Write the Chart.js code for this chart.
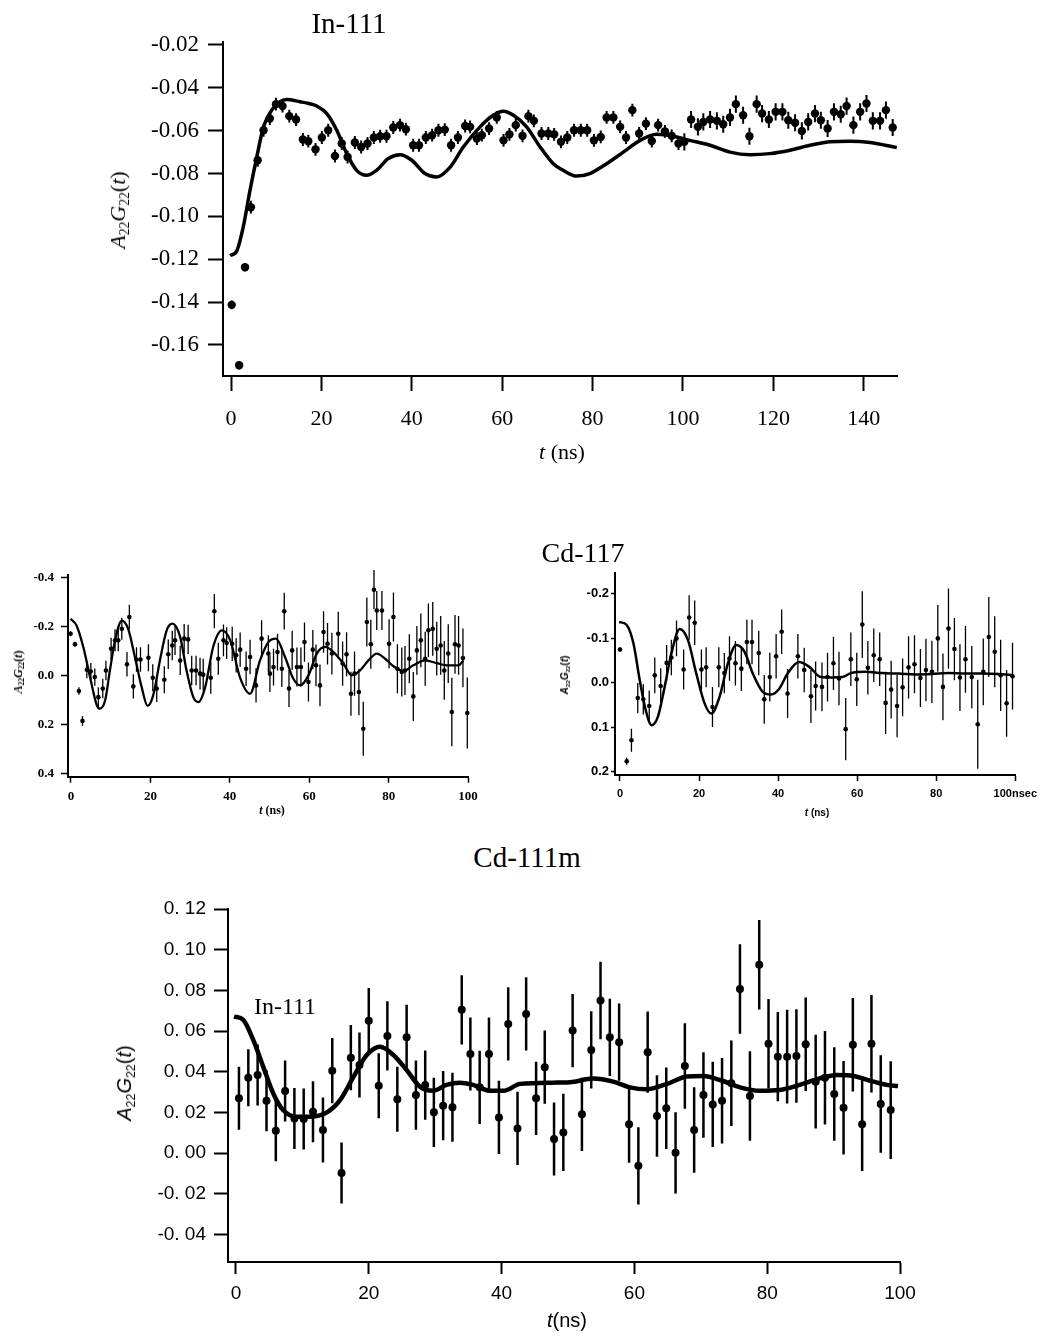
<!DOCTYPE html>
<html><head><meta charset="utf-8">
<script src="https://cdn.jsdelivr.net/npm/chart.js@4/dist/chart.umd.min.js"></script>
<style>
body{margin:0;background:#fff;width:1043px;height:1336px;position:relative;overflow:hidden}
canvas{position:absolute}
.t{position:absolute;white-space:nowrap;color:#000;line-height:1;transform:translate(-50%,-50%)}
.r{transform:translate(-50%,-50%) rotate(-90deg)}
sub{font-size:62%;vertical-align:-0.3em;line-height:0}
.serif{font-family:"Liberation Serif","DejaVu Serif",serif}
.sans{font-family:"Liberation Sans","DejaVu Sans",sans-serif}
</style></head><body>
<canvas id="c1" width="1043" height="480" style="left:0;top:0"></canvas>
<canvas id="c2" width="500" height="260" style="left:0;top:560px"></canvas>
<canvas id="c3" width="523" height="260" style="left:520px;top:560px"></canvas>
<canvas id="c4" width="1043" height="456" style="left:0;top:880px"></canvas>

<div class="t serif" style="left:349px;top:23px;font-size:29px">In-111</div>
<div class="t serif" style="left:562px;top:452px;font-size:22px"><i>t</i> (ns)</div>
<div class="t serif r" style="left:118px;top:210px;font-size:22px"><i>A</i><sub>22</sub><i>G</i><sub>22</sub>(<i>t</i>)</div>

<div class="t serif" style="left:583px;top:553px;font-size:28px">Cd-117</div>
<div class="t serif r" style="left:18px;top:672px;font-size:12px;font-weight:bold"><i>A</i><sub>22</sub><i>G</i><sub>22</sub>(<i>t</i>)</div>
<div class="t serif" style="left:272px;top:810px;font-size:12px;font-weight:bold"><i>t</i> (ns)</div>
<div class="t sans r" style="left:565px;top:675px;font-size:10px;font-weight:bold"><i>A</i><sub>22</sub><i>G</i><sub>22</sub>(<i>t</i>)</div>
<div class="t sans" style="left:817px;top:813px;font-size:10px;font-weight:bold"><i>t</i> (ns)</div>

<div class="t serif" style="left:527px;top:857px;font-size:29px">Cd-111m</div>
<div class="t serif" style="left:285px;top:1006px;font-size:24px">In-111</div>
<div class="t sans r" style="left:124px;top:1083px;font-size:20px"><i>A</i><sub>22</sub><i>G</i><sub>22</sub>(<i>t</i>)</div>
<div class="t sans" style="left:567px;top:1320px;font-size:20px"><i>t</i>(ns)</div>

<script>
// ---------- In-111 (top) ----------
const inTime = [0.15,1.8,3.1,4.4,5.9,7.2,8.6,9.95,11.4,12.9,14.4,15.9,17.1,18.7,20.1,21.5,23.0,24.5,25.8,27.4,28.8,30.2,31.6,33.0,34.4,35.9,37.4,38.7,40.3,41.6,43.1,44.5,45.9,47.3,48.7,50.2,51.8,52.9,54.4,55.5,57.1,58.8,60.3,61.6,63.0,64.5,65.8,67.0,68.7,70.2,71.5,73.0,74.4,75.9,77.4,78.8,80.3,81.8,83.1,84.6,86.1,87.4,88.8,90.3,91.8,93.1,94.5,96.0,97.5,99.0,100.3,101.8,103.3,104.5,106.0,107.5,108.9,110.4,111.7,113.3,114.7,116.3,117.5,119.0,120.5,122.0,123.3,124.8,126.3,127.7,129.2,130.5,132.0,133.4,134.9,136.2,137.7,139.2,140.6,142.0,143.6,144.9,146.4];
const inValue = [-0.1413,-0.1695,-0.1237,-0.0957,-0.0738,-0.0598,-0.0543,-0.0476,-0.0485,-0.0532,-0.0548,-0.0641,-0.0649,-0.0687,-0.0632,-0.0598,-0.0718,-0.066,-0.0723,-0.0655,-0.0676,-0.066,-0.0632,-0.0626,-0.0626,-0.0585,-0.0574,-0.0593,-0.0668,-0.0668,-0.0632,-0.0621,-0.0598,-0.0595,-0.0668,-0.0632,-0.0578,-0.0582,-0.0637,-0.0621,-0.059,-0.0538,-0.0645,-0.0617,-0.0574,-0.0624,-0.0532,-0.0554,-0.0613,-0.0613,-0.0617,-0.0652,-0.0632,-0.0598,-0.0598,-0.0598,-0.0645,-0.0629,-0.0538,-0.0538,-0.0582,-0.0632,-0.0504,-0.0613,-0.0567,-0.0648,-0.0574,-0.0603,-0.0624,-0.066,-0.0652,-0.0548,-0.0582,-0.0559,-0.0548,-0.0554,-0.057,-0.0538,-0.0476,-0.0528,-0.0626,-0.0476,-0.052,-0.0548,-0.0512,-0.0512,-0.0551,-0.0563,-0.0601,-0.0559,-0.052,-0.0551,-0.059,-0.0512,-0.0523,-0.0485,-0.0574,-0.0512,-0.0473,-0.0554,-0.0554,-0.0504,-0.0585];
const inError = [0.002,0.002,0.002,0.003,0.003,0.003,0.003,0.003,0.003,0.003,0.003,0.003,0.003,0.003,0.003,0.003,0.003,0.003,0.003,0.003,0.003,0.003,0.003,0.003,0.003,0.003,0.003,0.003,0.003,0.003,0.003,0.003,0.003,0.003,0.003,0.003,0.003,0.003,0.003,0.003,0.003,0.003,0.003,0.003,0.003,0.003,0.003,0.003,0.003,0.003,0.003,0.003,0.003,0.003,0.003,0.003,0.003,0.003,0.003,0.003,0.003,0.003,0.003,0.003,0.003,0.003,0.003,0.003,0.003,0.003,0.004,0.004,0.004,0.004,0.004,0.004,0.004,0.004,0.004,0.004,0.004,0.004,0.004,0.004,0.004,0.004,0.004,0.004,0.004,0.004,0.004,0.004,0.004,0.004,0.004,0.004,0.004,0.004,0.004,0.004,0.004,0.004,0.004];
const inFitTime = [-0.2,1.3,2.7,4.2,5.7,7.2,9.0,10.8,12.3,15.3,17.0,19.0,21.2,23.4,25.6,27.8,30.0,32.2,34.8,37.4,40.0,42.9,45.5,48.5,51.4,55.1,58.0,60.3,62.5,65.4,68.4,71.3,73.5,76.5,79.4,83.1,86.8,90.5,94.2,97.9,101.5,106.0,110.4,114.8,119.2,123.7,128.1,132.5,136.9,141.4,147.3];
const inFitValue = [-0.1183,-0.116,-0.105,-0.0879,-0.0723,-0.0582,-0.0504,-0.0465,-0.0454,-0.0465,-0.0472,-0.0485,-0.052,-0.0598,-0.0707,-0.0785,-0.0808,-0.0785,-0.073,-0.0712,-0.0738,-0.08,-0.0816,-0.077,-0.0676,-0.0582,-0.0528,-0.0509,-0.0528,-0.0582,-0.0676,-0.0754,-0.0785,-0.0812,-0.08,-0.0754,-0.07,-0.0645,-0.0617,-0.0626,-0.0645,-0.0668,-0.07,-0.0712,-0.0707,-0.0691,-0.0668,-0.0652,-0.0649,-0.0655,-0.0679];
const inXTicks = [0,20,40,60,80,100,120,140];
const inYTicks = [-0.16,-0.14,-0.12,-0.10,-0.08,-0.06,-0.04,-0.02];

// ---------- Cd-117 (left) ----------
const cdLTime = [-0.1,1.0,2.0,2.9,4.0,5.0,6.0,6.9,8.0,8.8,10.1,11.1,11.9,12.8,14.1,14.7,15.7,16.5,17.5,19.5,20.6,21.6,23.5,24.5,25.5,26.2,27.5,28.5,29.5,30.4,31.5,32.5,33.3,35.2,36.1,37.1,38.4,39.2,40.6,41.6,42.6,44.1,45.1,46.6,48.0,49.7,50.1,51.0,52.0,53.1,53.7,54.9,55.7,56.9,57.9,58.8,59.8,60.9,61.7,62.7,63.6,64.6,65.7,67.3,68.4,69.4,70.5,71.4,72.5,73.6,74.5,75.5,76.3,77.0,78.3,80.1,81.2,82.2,83.3,84.1,85.2,86.2,87.1,88.1,89.2,90.0,91.1,92.1,93.1,94.0,95.0,95.9,96.7,97.6,98.7,99.8];
const cdLValue = [-0.170,-0.127,0.064,0.186,-0.023,-0.016,0.007,0.089,0.054,-0.020,-0.109,-0.143,-0.143,-0.190,-0.045,-0.238,0.045,-0.065,-0.065,-0.072,0.010,0.054,0.018,-0.086,-0.122,-0.143,-0.061,-0.150,-0.147,-0.020,-0.020,-0.007,-0.003,0.010,-0.262,-0.068,-0.143,-0.132,-0.129,-0.082,-0.105,-0.027,-0.075,0.041,-0.150,-0.089,-0.007,-0.034,-0.095,-0.027,-0.262,0.054,-0.102,-0.034,-0.034,-0.136,0.027,-0.105,-0.041,0.041,-0.177,-0.129,-0.089,-0.170,-0.048,-0.086,0.075,-0.007,0.068,0.218,-0.218,-0.127,-0.350,-0.265,-0.265,-0.129,-0.238,-0.027,-0.014,-0.020,-0.068,0.086,-0.102,-0.143,-0.068,-0.184,-0.190,-0.109,-0.122,-0.020,-0.089,0.150,-0.127,-0.122,-0.071,0.154];
const cdLError = [0.01,0.01,0.015,0.02,0.035,0.035,0.035,0.04,0.04,0.04,0.045,0.045,0.045,0.045,0.05,0.05,0.05,0.05,0.05,0.055,0.055,0.055,0.055,0.06,0.06,0.06,0.06,0.06,0.06,0.06,0.06,0.065,0.065,0.065,0.07,0.065,0.065,0.065,0.07,0.07,0.07,0.07,0.07,0.07,0.075,0.075,0.075,0.075,0.075,0.075,0.075,0.075,0.08,0.08,0.08,0.08,0.08,0.08,0.085,0.085,0.085,0.085,0.085,0.09,0.09,0.09,0.09,0.09,0.095,0.11,0.1,0.1,0.08,0.08,0.08,0.1,0.1,0.1,0.1,0.1,0.1,0.1,0.1,0.11,0.11,0.11,0.11,0.11,0.12,0.12,0.12,0.14,0.12,0.12,0.12,0.145];
const cdLFitTime = [-0.1,1.4,3.1,4.8,6.5,7.3,8.6,9.8,11.1,12.8,14.4,16.1,17.8,19.3,20.7,22.4,24.1,25.6,27.5,29.1,30.8,32.1,33.8,35.8,38.0,40.1,42.6,45.1,47.6,49.7,51.6,53.9,56.0,57.7,59.8,61.9,64.0,66.1,68.6,70.7,72.8,74.9,77.0,79.1,81.2,83.7,86.2,89.2,92.1,94.6,97.6,98.8];
const cdLFitValue = [-0.231,-0.204,-0.116,0.007,0.122,0.136,0.102,-0.020,-0.143,-0.224,-0.190,-0.075,0.048,0.125,0.082,-0.061,-0.184,-0.211,-0.156,-0.020,0.089,0.109,0.048,-0.116,-0.184,-0.143,0.010,0.075,-0.061,-0.136,-0.150,-0.075,0.014,0.041,0.0,-0.089,-0.116,-0.095,-0.048,0.0,-0.020,-0.061,-0.089,-0.068,-0.037,-0.018,-0.041,-0.061,-0.050,-0.041,-0.041,-0.060];
const cdLXTicks = [0,20,40,60,80,100];
const cdLYTicks = [-0.4,-0.2,0.0,0.2,0.4];

// ---------- Cd-117 (right) ----------
const cdRTime = [0.0,1.7,2.9,4.5,5.9,7.4,8.8,10.3,11.8,13.0,14.3,16.1,17.5,18.9,20.6,21.8,23.4,25.0,26.4,27.7,29.2,30.7,32.1,33.4,35.1,36.5,37.9,39.5,40.9,42.4,45.0,46.6,48.3,49.5,51.1,52.5,54.0,55.4,57.1,58.4,59.9,61.3,62.7,64.2,65.7,67.2,68.6,70.1,71.5,73.0,74.5,76.0,77.4,78.9,80.4,81.7,83.1,84.6,86.0,87.4,89.0,90.5,91.9,93.3,94.8,96.3,97.8,99.3];
const cdRValue = [-0.075,0.176,0.129,0.034,0.037,0.052,-0.017,0.007,-0.045,-0.057,-0.100,-0.030,-0.147,-0.135,-0.030,-0.035,0.054,-0.035,-0.022,-0.055,-0.044,-0.032,-0.092,-0.092,-0.067,0.037,-0.013,-0.060,-0.115,0.024,-0.060,-0.029,0.030,0.007,0.009,-0.013,-0.044,-0.010,0.104,-0.053,-0.008,-0.131,-0.034,-0.062,-0.053,0.045,0.015,0.052,0.010,-0.035,-0.042,-0.011,-0.029,-0.025,-0.100,0.009,-0.122,-0.076,-0.012,-0.053,-0.013,0.093,-0.025,-0.103,-0.070,-0.017,0.046,-0.015];
const cdRError = [0.005,0.008,0.026,0.034,0.034,0.035,0.04,0.04,0.04,0.04,0.04,0.045,0.05,0.05,0.045,0.045,0.045,0.045,0.045,0.05,0.05,0.05,0.05,0.05,0.05,0.055,0.055,0.05,0.05,0.055,0.05,0.05,0.06,0.055,0.055,0.055,0.06,0.06,0.07,0.06,0.06,0.075,0.06,0.06,0.06,0.07,0.065,0.07,0.065,0.07,0.065,0.065,0.07,0.07,0.075,0.075,0.09,0.07,0.075,0.075,0.07,0.1,0.075,0.09,0.08,0.08,0.075,0.075];
const cdRFitTime = [-0.2,1.7,3.4,5.0,6.5,8.0,9.6,11.3,13.0,15.1,17.2,19.3,21.4,23.1,25.2,27.3,29.4,31.5,33.6,36.1,38.2,40.3,42.4,45.3,47.9,50.8,53.7,56.3,58.4,62.1,66.3,70.5,74.7,78.9,83.1,87.3,91.5,95.7,99.5];
const cdRFitValue = [-0.137,-0.130,-0.089,-0.006,0.061,0.095,0.076,0.009,-0.066,-0.121,-0.096,-0.021,0.046,0.069,0.031,-0.044,-0.085,-0.070,-0.021,0.020,0.026,0.013,-0.021,-0.047,-0.036,-0.013,-0.012,-0.013,-0.022,-0.025,-0.022,-0.021,-0.019,-0.020,-0.022,-0.021,-0.021,-0.020,-0.017];
const cdRXTicks = [0,20,40,60,80,100];
const cdRYTicks = [-0.2,-0.1,0.0,0.1,0.2];

// ---------- Cd-111m (bottom) ----------
const cdmTime = [0.45,1.86,3.26,4.6,6.0,7.4,8.8,10.2,11.6,13.1,14.5,15.9,17.3,18.6,20.0,21.5,22.8,24.3,25.7,27.1,28.5,29.8,31.2,32.6,34.0,35.3,36.7,38.1,39.6,41.0,42.4,43.7,45.2,46.5,47.9,49.3,50.7,52.1,53.5,54.9,56.3,57.7,59.2,60.6,62.0,63.4,64.8,66.2,67.6,69.0,70.4,71.8,73.2,74.6,75.9,77.4,78.8,80.2,81.6,83.0,84.4,85.8,87.3,88.7,90.1,91.5,92.9,94.3,95.7,97.1,98.6];
const cdmValue = [0.0269,0.037,0.0384,0.0257,0.0109,0.0305,0.017,0.0167,0.0203,0.0113,0.0405,-0.0098,0.0469,0.0433,0.0651,0.0331,0.0576,0.0264,0.0569,0.0285,0.0334,0.020,0.0233,0.0225,0.0704,0.0487,0.0323,0.0487,0.0175,0.0635,0.0121,0.0684,0.0269,0.0422,0.0069,0.0101,0.0602,0.019,0.0507,0.075,0.0569,0.0545,0.0142,-0.0063,0.0496,0.0182,0.022,0.0001,0.0428,0.0113,0.0285,0.0239,0.0257,0.0343,0.0807,0.028,0.0926,0.0537,0.0474,0.0474,0.0477,0.0535,0.0351,0.037,0.029,0.0223,0.0532,0.0141,0.0537,0.0241,0.0211];
const cdmError = [0.0155,0.014,0.015,0.015,0.015,0.015,0.015,0.015,0.015,0.016,0.016,0.015,0.016,0.016,0.016,0.016,0.017,0.016,0.016,0.017,0.017,0.017,0.017,0.017,0.017,0.018,0.018,0.018,0.018,0.018,0.018,0.018,0.018,0.018,0.018,0.019,0.018,0.018,0.019,0.019,0.019,0.019,0.019,0.019,0.020,0.020,0.020,0.020,0.021,0.021,0.021,0.021,0.021,0.021,0.022,0.022,0.022,0.022,0.022,0.023,0.023,0.023,0.023,0.023,0.023,0.023,0.023,0.023,0.024,0.024,0.024];
const cdmFitTime = [-0.3,1.1,2.6,4.1,5.6,7.1,9.1,11.1,13.7,15.7,17.7,19.7,21.7,23.7,25.7,27.7,29.7,31.7,33.7,35.7,38.3,40.3,42.8,47.8,50.3,53.8,56.8,59.3,61.8,64.9,67.9,70.4,72.9,75.9,78.9,81.9,84.9,87.9,90.5,93.0,96.0,98.0,99.7];
const cdmFitValue = [0.0671,0.0655,0.0556,0.0425,0.0294,0.0211,0.0178,0.0178,0.020,0.0261,0.0375,0.0482,0.0523,0.0482,0.0408,0.0326,0.0306,0.0335,0.0346,0.0335,0.0306,0.0306,0.034,0.0346,0.0348,0.0366,0.0351,0.0323,0.0313,0.034,0.0376,0.0379,0.0359,0.0323,0.0306,0.031,0.0335,0.0367,0.0384,0.0379,0.0351,0.0335,0.033];
const cdmXTicks = [0,20,40,60,80,100];
const cdmYTicks = [-0.04,-0.02,0.00,0.02,0.04,0.06,0.08,0.10,0.12];

// ---------- drawing ----------
const pairs = (xs, ys) => xs.map((x, i) => ({x: x, y: ys[i]}));

const errorBars = {
  id: 'errorBars',
  beforeDatasetsDraw(chart) {
    const ctx = chart.ctx, ys = chart.scales.y;
    chart.data.datasets.forEach((ds, i) => {
      if (!ds.errors) return;
      const meta = chart.getDatasetMeta(i);
      ctx.save();
      ctx.strokeStyle = '#000';
      ctx.lineWidth = ds.errWidth;
      ctx.beginPath();
      meta.data.forEach((pt, j) => {
        const v = ds.data[j].y, e = ds.errors[j];
        ctx.moveTo(pt.x, ys.getPixelForValue(v - e));
        ctx.lineTo(pt.x, ys.getPixelForValue(v + e));
      });
      ctx.stroke();
      ctx.restore();
    });
  }
};

function axis(o) {
  return {
    type: 'linear', min: o.min, max: o.max, reverse: !!o.reverse,
    afterBuildTicks: s => { s.ticks = o.ticks.map(v => ({value: v})); },
    afterFit: s => { if (o.w != null) s.width = o.w; if (o.h != null) s.height = o.h; },
    grid: {display: true, drawOnChartArea: false, drawTicks: true, tickLength: o.tl, tickWidth: o.tw, tickColor: '#000', color: '#000'},
    border: {display: true, color: '#000', width: o.bw},
    ticks: {color: '#000', font: o.font, padding: o.tp, autoSkip: false, maxRotation: 0, minRotation: 0, callback: o.fmt}
  };
}

function panel(id, o) {
  return new Chart(document.getElementById(id), {
    type: 'scatter',
    data: {datasets: [
      {type: 'line', data: pairs(o.ct, o.cv), borderColor: '#000', borderWidth: o.lw, pointRadius: 0,
       fill: false, cubicInterpolationMode: 'monotone', clip: false, order: 1},
      {data: pairs(o.pt, o.pv), errors: o.pe, errWidth: o.ew, backgroundColor: '#000', borderColor: '#000',
       pointRadius: o.pr, pointBorderWidth: 0, pointStyle: o.ps || 'circle', clip: false, order: 0}
    ]},
    options: {
      responsive: false, animation: false, devicePixelRatio: 1, events: [],
      layout: {padding: o.pad},
      plugins: {legend: {display: false}, tooltip: {enabled: false}},
      scales: {x: axis(o.x), y: axis(o.y)}
    },
    plugins: [errorBars]
  });
}

const serif = '"Liberation Serif", "DejaVu Serif", serif';
const sans = '"Liberation Sans", "DejaVu Sans", sans-serif';

panel('c1', {
  pt: inTime, pv: inValue, pe: inError, ew: 2, pr: 4.2,
  ct: inFitTime, cv: inFitValue, lw: 3.5,
  pad: {left: 0, right: 146, top: 42, bottom: 0},
  x: {min: -1.77, max: 147.35, ticks: inXTicks, h: 104, tl: 15, tw: 2, bw: 2, tp: 15,
      font: {family: serif, size: 22}, fmt: v => String(v)},
  y: {min: -0.1745, max: -0.0186, ticks: inYTicks, w: 223, tl: 15, tw: 2, bw: 2, tp: 9,
      font: {family: serif, size: 23}, fmt: v => v.toFixed(2)}
});

panel('c2', {
  pt: cdLTime, pv: cdLValue, pe: cdLError, ew: 1.3, pr: 2.3,
  ct: cdLFitTime, cv: cdLFitValue, lw: 2.3,
  pad: {left: 0, right: 31.5, top: 15, bottom: 0},
  x: {min: -0.75, max: 100.1, ticks: cdLXTicks, h: 43.3, tl: 6, tw: 1.5, bw: 2, tp: 6,
      font: {family: serif, size: 13, weight: 'bold'}, fmt: v => String(v)},
  y: {min: -0.41, max: 0.414, reverse: true, ticks: cdLYTicks, w: 68, tl: 7, tw: 1.5, bw: 2, tp: 7,
      font: {family: serif, size: 13, weight: 'bold'}, fmt: v => v.toFixed(1)}
});

panel('c3', {
  pt: cdRTime, pv: cdRValue, pe: cdRError, ew: 1.3, pr: 2.3,
  ct: cdRFitTime, cv: cdRFitValue, lw: 2.5,
  pad: {left: 0, right: 26, top: 13, bottom: 0},
  x: {min: -1.26, max: 100.0, ticks: cdRXTicks, h: 45, tl: 6, tw: 1.5, bw: 2, tp: 6,
      font: {family: sans, size: 11, weight: 'bold'}, fmt: v => (v === 100 ? '100nsec' : String(v))},
  y: {min: -0.247, max: 0.207, reverse: true, ticks: cdRYTicks, w: 95, tl: 4, tw: 1.5, bw: 2, tp: 2,
      font: {family: sans, size: 13, weight: 'bold'}, fmt: v => v.toFixed(1)}
});

panel('c4', {
  pt: cdmTime, pv: cdmValue, pe: cdmError, ew: 2.5, pr: 4,
  ct: cdmFitTime, cv: cdmFitValue, lw: 4.5,
  pad: {left: 0, right: 143, top: 29, bottom: 0},
  x: {min: -1.2, max: 100, ticks: cdmXTicks, h: 74, tl: 12, tw: 2, bw: 2, tp: 8,
      font: {family: sans, size: 19}, fmt: v => String(v)},
  y: {min: -0.0536, max: 0.12, ticks: cdmYTicks, w: 228, tl: 14, tw: 2, bw: 2, tp: 8,
      font: {family: sans, size: 19}, fmt: v => v.toFixed(2).replace('.', '. ')}
});
</script>
</body></html>
